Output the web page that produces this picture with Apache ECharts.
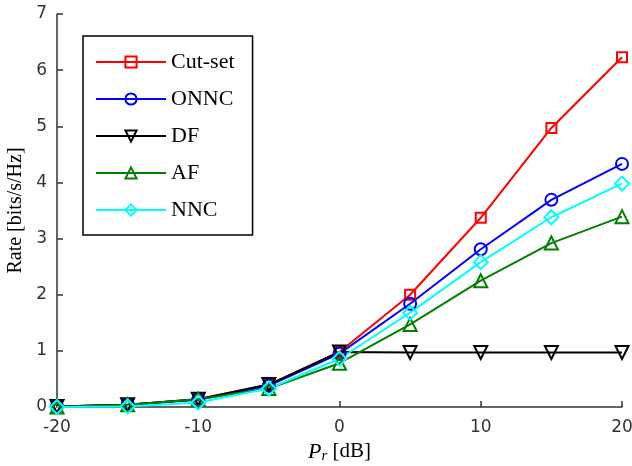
<!DOCTYPE html>
<html>
<head>
<meta charset="utf-8">
<script src="https://cdn.jsdelivr.net/npm/echarts@6/dist/echarts.min.js"></script>
<style>html,body{margin:0;padding:0;background:#fff;}#c{width:632px;height:466px;}</style>
</head>
<body>
<div id="c"></div>
<script>
var xValues = [-20, -15, -10, -5, 0, 5, 10, 15, 20];
var cutSet = [0.01, 0.04, 0.14, 0.40, 0.98, 2.00, 3.37, 4.97, 6.23];
var onnc   = [0.01, 0.04, 0.13, 0.38, 0.95, 1.84, 2.81, 3.69, 4.33];
var df     = [0.01, 0.04, 0.14, 0.40, 0.98, 0.97, 0.97, 0.97, 0.97];
var af     = [0.00, 0.04, 0.14, 0.33, 0.78, 1.47, 2.25, 2.92, 3.39];
var nnc    = [0.00, 0.01, 0.08, 0.33, 0.86, 1.68, 2.58, 3.38, 3.98];
var seriesNames = ['Cut-set', 'ONNC', 'DF', 'AF', 'NNC'];
var xTicks = [-20, -10, 0, 10, 20];
var yTicks = [0, 1, 2, 3, 4, 5, 6, 7];

function pairs(ys) { return xValues.map(function (x, i) { return [x, ys[i]]; }); }

var styles = [
  { color: '#ff0000', symbol: 'rect', size: 10, rot: 0 },
  { color: '#0000ff', symbol: 'circle', size: 12, rot: 0 },
  { color: '#000000', symbol: 'triangle', size: 13, rot: 180 },
  { color: '#008000', symbol: 'triangle', size: 13, rot: 0 },
  { color: '#00ffff', symbol: 'diamond', size: 14, rot: 0 }
];
var allData = [cutSet, onnc, df, af, nnc];

var series = allData.map(function (d, i) {
  var s = styles[i];
  return {
    name: seriesNames[i],
    type: 'line',
    data: pairs(d),
    symbol: s.symbol,
    symbolSize: s.size,
    symbolRotate: s.rot,
    showAllSymbol: true,
    lineStyle: { color: s.color, width: 2 },
    itemStyle: { color: 'rgba(255,255,255,0)', borderColor: s.color, borderWidth: 2 },
    emphasis: { disabled: true },
    animation: false
  };
});

var chart = echarts.init(document.getElementById('c'), null, { renderer: 'canvas' });
chart.setOption({
  backgroundColor: '#fff',
  animation: false,
  grid: { left: 57, right: 10, top: 14, bottom: 59, containLabel: false, outerBoundsMode: 'none' },
  legend: {
    orient: 'vertical',
    left: 83,
    top: 36,
    data: seriesNames,
    itemWidth: 70,
    itemHeight: 14,
    itemGap: 15,
    padding: [15, 18, 14, 12],
    borderColor: '#000',
    borderWidth: 1.5,
    backgroundColor: '#fff',
    selectedMode: false,
    textStyle: { fontFamily: 'Liberation Serif', fontSize: 22, color: '#000', lineHeight: 22 }
  },
  xAxis: {
    type: 'value',
    min: -20, max: 20, interval: 10,
    name: '{i|P}{s|r} [dB]',
    nameLocation: 'middle',
    nameGap: 26,
    nameTextStyle: {
      fontFamily: 'Liberation Serif', fontSize: 21, color: '#000',
      rich: {
        i: { fontFamily: 'Liberation Serif', fontStyle: 'italic', fontSize: 22, color: '#000' },
        s: { fontFamily: 'Liberation Serif', fontStyle: 'italic', fontSize: 15, color: '#000', verticalAlign: 'bottom', padding: [9, 0, 0, 0] }
      }
    },
    axisLine: { show: true, onZero: false, lineStyle: { color: '#333', width: 1.5 } },
    axisTick: { show: true, inside: true, length: 6, lineStyle: { color: '#333', width: 1.5 } },
    axisLabel: { fontFamily: 'DejaVu Sans', fontSize: 17, color: '#333', margin: 12,
      formatter: function (v) { return xTicks.indexOf(v) >= 0 ? String(v) : ''; } },
    splitLine: { show: false }
  },
  yAxis: {
    type: 'value',
    min: 0, max: 7, interval: 1,
    name: 'Rate [bits/s/Hz]',
    nameLocation: 'middle',
    nameGap: 29,
    nameTextStyle: { fontFamily: 'Liberation Serif', fontSize: 20, color: '#000' },
    axisLine: { show: true, onZero: false, lineStyle: { color: '#333', width: 1.5 } },
    axisTick: { show: true, inside: true, length: 6, lineStyle: { color: '#333', width: 1.5 } },
    axisLabel: { fontFamily: 'DejaVu Sans', fontSize: 17, color: '#333', margin: 10,
      formatter: function (v) { return yTicks.indexOf(v) >= 0 ? String(v) : ''; } },
    splitLine: { show: false }
  },
  series: series
});
</script>
</body>
</html>
